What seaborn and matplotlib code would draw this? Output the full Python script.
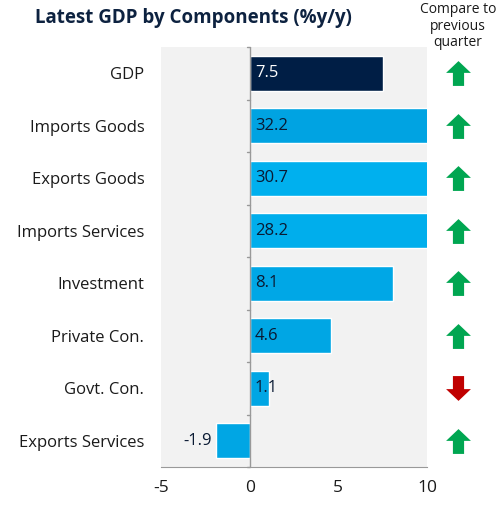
import numpy as np
import pandas as pd
import matplotlib
matplotlib.use("Agg")
import matplotlib.pyplot as plt
from matplotlib.path import Path
import seaborn as sns

# chart data
components = ["GDP", "Imports Goods", "Exports Goods", "Imports Services",
              "Investment", "Private Con.", "Govt. Con.", "Exports Services"]
growth = [7.5, 32.2, 30.7, 28.2, 8.1, 4.6, 1.1, -1.9]
direction = ["up", "up", "up", "up", "up", "up", "down", "up"]
bar_colors = ["#001e45", "#00a3e2", "#00b0ee", "#00aeec",
              "#00a7e6", "#00a6e4", "#00a6e4", "#00a6e4"]
x_ticks = [-5, 0, 5, 10]

df = pd.DataFrame({"component": components, "growth": growth})

sns.set_style("white")
plt.rcParams["font.family"] = ["Open Sans", "DejaVu Sans"]

fig = plt.figure(figsize=(4.99, 5.07), dpi=100)
W, H = 499, 507
ax = fig.add_axes([161 / W, 1 - 467 / H, (427 - 161) / W, (467 - 47) / H])
ax.set_facecolor("#f2f2f2")

sns.barplot(data=df, y="component", x="growth", hue="component",
            palette=bar_colors, legend=False, width=0.66, ax=ax,
            orient="h", saturation=1)

ax.set_xlim(-5, 10)
ax.set_ylim(len(components) - 0.5, -0.5)
ax.set_xticks(x_ticks)
ax.set_xticklabels([str(t) for t in x_ticks], fontsize=12.5, color="#1a1a1a")
ax.set_yticks(range(len(components)))
ax.set_yticklabels(components, fontsize=12, color="#1a1a1a")
ax.tick_params(axis="y", length=0, pad=12)
ax.tick_params(axis="x", length=6, direction="inout", color="#999999",
               width=1, pad=6)
ax.set_xlabel("")
ax.set_ylabel("")
for s in ["top", "right", "left"]:
    ax.spines[s].set_visible(False)
ax.spines["bottom"].set_color("#999999")

# zero line with category separator ticks
ax.axvline(0, color="#999999", lw=1, zorder=3)
for b in np.arange(-0.5, len(components) - 0.4, 1.0):
    ax.plot([-0.17, 0], [b, b], color="#999999", lw=1, zorder=3, clip_on=False)

# value labels
for i, v in enumerate(growth):
    if v >= 0:
        ax.text(0.3, i, f"{v:.1f}", va="center", ha="left", fontsize=12,
                color="white" if i == 0 else "#0a1a33", zorder=4)
    else:
        ax.text(v - 0.25, i, f"{v:.1f}", va="center", ha="right", fontsize=12,
                color="#0a1a33", zorder=4)

# direction arrows column
up_arrow = Path([(0, 1), (1, 0.05), (0.45, 0.05), (0.45, -1), (-0.45, -1),
                 (-0.45, 0.05), (-1, 0.05), (0, 1)],
                [Path.MOVETO] + [Path.LINETO] * 6 + [Path.CLOSEPOLY])
down_arrow = Path([(x, -y) for x, y in up_arrow.vertices], up_arrow.codes)

ax2 = fig.add_axes([440 / W, 1 - 467 / H, 36 / W, (467 - 47) / H])
ax2.set_xlim(0, 1)
ax2.set_ylim(len(components) - 0.5, -0.5)
ax2.axis("off")
for i, d in enumerate(direction):
    ax2.scatter(0.5, i, marker=up_arrow if d == "up" else down_arrow,
                s=320, color="#00a651" if d == "up" else "#c00000",
                linewidths=0)

fig.text(35 / W, 1 - 18 / H, "Latest GDP by Components (%y/y)", fontsize=13.5,
         fontweight="bold", color="#0d2240", va="center", ha="left")
fig.text(458 / W, 1 - 26 / H, "Compare to\nprevious\nquarter", fontsize=10,
         color="#1a1a1a", va="center", ha="center", linespacing=1.1)

fig.savefig("out.png", dpi=100)
